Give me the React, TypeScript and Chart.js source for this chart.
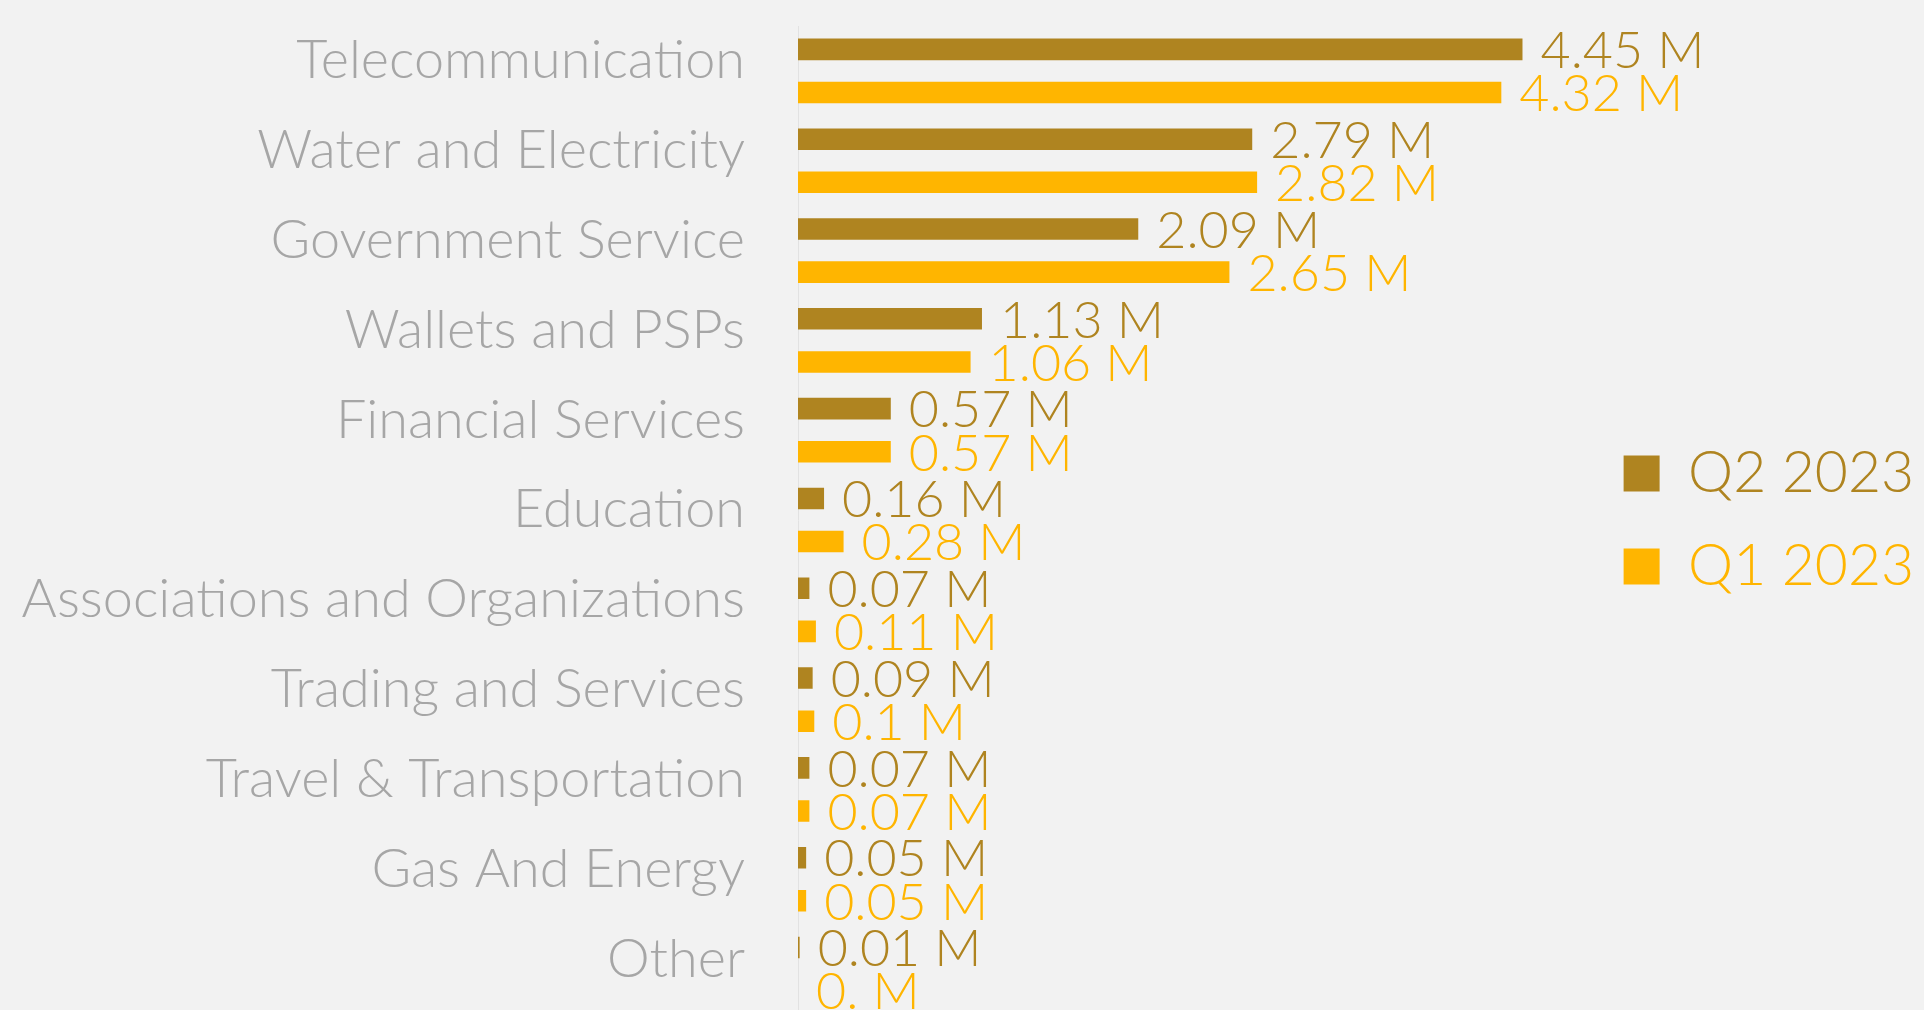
import React, { useEffect, useRef } from "react";
import { Chart, registerables } from "chart.js";

Chart.register(...registerables);

const categories = [
  "Telecommunication",
  "Water and Electricity",
  "Government Service",
  "Wallets and PSPs",
  "Financial Services",
  "Education",
  "Associations and Organizations",
  "Trading and Services",
  "Travel & Transportation",
  "Gas And Energy",
  "Other",
];
const q2Values = [4.45, 2.79, 2.09, 1.13, 0.57, 0.16, 0.07, 0.09, 0.07, 0.05, 0.01];
const q1Values = [4.32, 2.82, 2.65, 1.06, 0.57, 0.28, 0.11, 0.1, 0.07, 0.05, 0];
const seriesLabels = ["Q2 2023", "Q1 2023"];
const seriesColors = ["#AF8420", "#FFB500"];
const unitSuffix = " M";

function formatValue(v: number): string {
  const s = v.toFixed(2).replace(/0+$/, "");
  return s + unitSuffix;
}

const valueLabels = {
  id: "valueLabels",
  afterDatasetsDraw(chart: any) {
    const ctx = chart.ctx;
    ctx.save();
    ctx.font = "300 52px Lato";
    ctx.textBaseline = "middle";
    ctx.textAlign = "left";
    chart.data.datasets.forEach((ds: any, di: number) => {
      const meta = chart.getDatasetMeta(di);
      meta.data.forEach((el: any, i: number) => {
        ctx.fillStyle = ds.backgroundColor;
        ctx.fillText(formatValue(ds.data[i]), el.x + 18, el.y + 2);
      });
    });
    ctx.restore();
  },
};

export default function App() {
  const ref = useRef<HTMLCanvasElement | null>(null);

  useEffect(() => {
    if (!ref.current) return;
    const chart = new Chart(ref.current, {
      type: "bar",
      data: {
        labels: categories,
        datasets: [
          {
            label: seriesLabels[0],
            data: q2Values,
            backgroundColor: seriesColors[0],
            borderWidth: 0,
            barPercentage: 0.5,
            categoryPercentage: 0.96,
          },
          {
            label: seriesLabels[1],
            data: q1Values,
            backgroundColor: seriesColors[1],
            borderWidth: 0,
            barPercentage: 0.5,
            categoryPercentage: 0.96,
          },
        ],
      },
      options: {
        indexAxis: "y",
        responsive: false,
        animation: false,
        layout: { padding: { top: 26, right: 0, bottom: 0, left: 0 } },
        scales: {
          x: { display: false, min: 0, max: 4.85 },
          y: {
            grid: { display: false, drawTicks: false },
            border: { display: true, color: "#e2e2e2", width: 1 },
            ticks: {
              color: "#a6a6a6",
              font: { family: "Lato", size: 54, weight: "300" },
              padding: 53,
              labelOffset: -10,
            },
            afterFit(scale: any) {
              scale.width = 798;
              scale.paddingTop = 0;
              scale.paddingBottom = 0;
            },
          },
        },
        plugins: {
          tooltip: { enabled: false },
          legend: {
            position: "right",
            align: "center",
            labels: {
              boxWidth: 36,
              boxHeight: 36,
              padding: 36,
              font: { family: "Lato", size: 57, weight: "300" },
              generateLabels(chart: any) {
                const items = Chart.defaults.plugins.legend.labels.generateLabels(chart);
                items.forEach((it: any) => {
                  it.fontColor = seriesColors[it.datasetIndex];
                  it.lineWidth = 0;
                });
                return items;
              },
            },
          },
        },
      },
      plugins: [valueLabels],
    });
    return () => chart.destroy();
  }, []);

  return (
    <div
      style={{
        position: "fixed",
        top: 0,
        left: 0,
        width: 1924,
        height: 1010,
        overflow: "hidden",
        background: "#f2f2f2",
      }}
    >
      <canvas ref={ref} width={1924} height={1014} style={{ display: "block" }} />
    </div>
  );
}
